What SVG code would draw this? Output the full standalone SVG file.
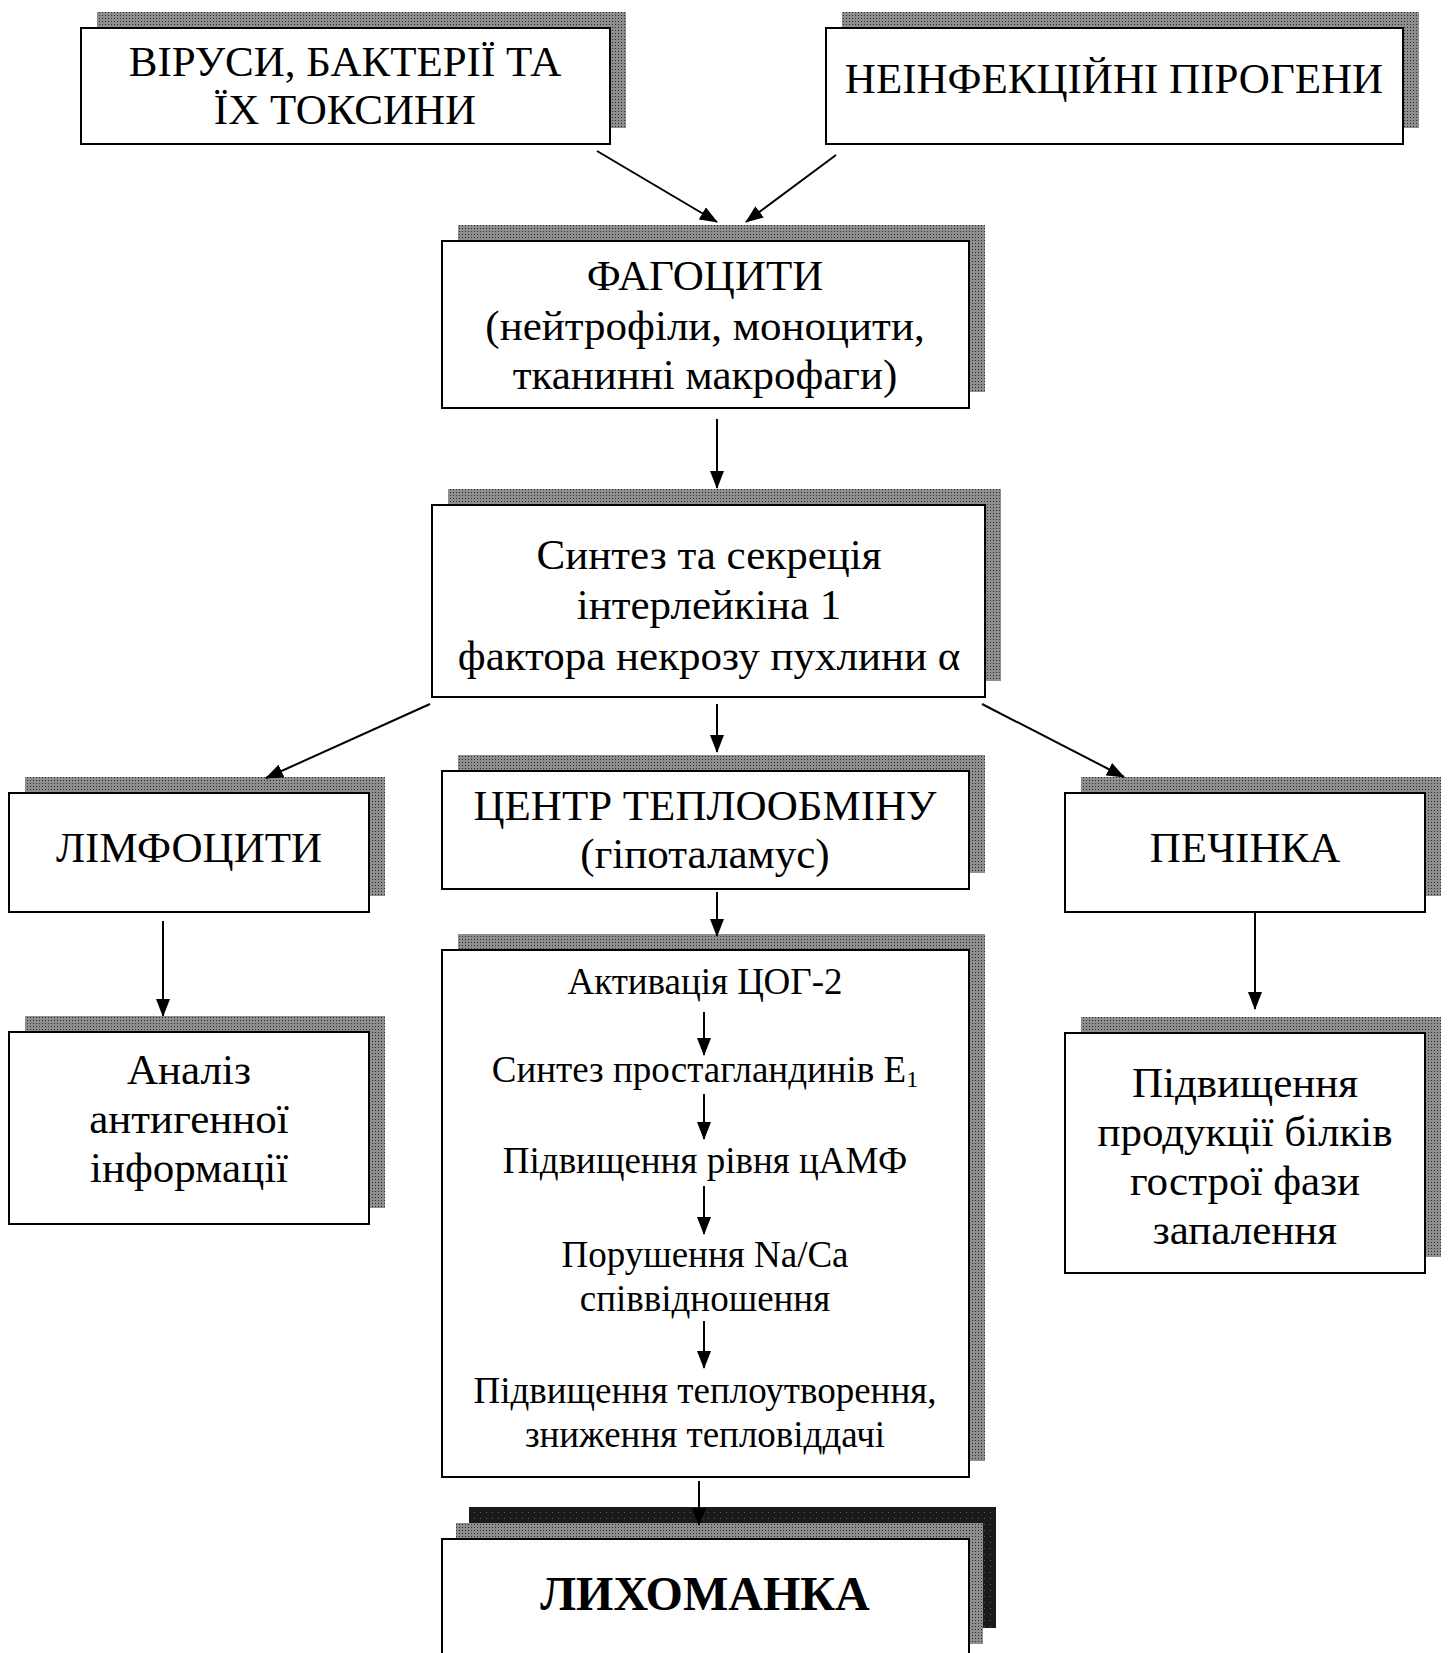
<svg xmlns="http://www.w3.org/2000/svg" width="1449" height="1653" viewBox="0 0 1449 1653">
<style>
.box{fill:#fff;stroke:#000;stroke-width:2}
.sh{fill:url(#dots)}
.shb{fill:url(#dk)}
text{font-family:"Liberation Serif","Times New Roman",serif;fill:#000;text-anchor:middle}
.t{font-size:43px}
.s{font-size:37px}
.b{font-size:48px;font-weight:bold}
.c line{stroke:#000;stroke-width:2;marker-end:url(#ah)}
</style>
<defs>
<pattern id="dots" width="3" height="3" patternUnits="userSpaceOnUse"><rect width="3" height="3" fill="#8e8e8e"/><rect width="1" height="1" fill="#2e2e2e"/></pattern>
<pattern id="dk" width="6" height="6" patternUnits="userSpaceOnUse"><rect width="6" height="6" fill="#1a1a1a"/><rect width="1" height="1" fill="#5a5a5a"/></pattern>
<marker id="ah" markerUnits="userSpaceOnUse" markerWidth="18" markerHeight="14" refX="17" refY="7" orient="auto"><path d="M0,0 L18,7 L0,14 Z" fill="#000"/></marker>
</defs>
<rect width="1449" height="1653" fill="#fff"/>

<g id="n1"><rect class="sh" x="97" y="12" width="529" height="116"/><rect class="box" x="81" y="28" width="529" height="116"/>
<text class="t" x="345" y="76">ВІРУСИ, БАКТЕРІЇ ТА</text><text class="t" x="345" y="124">ЇХ ТОКСИНИ</text></g>

<g id="n2"><rect class="sh" x="842" y="12" width="577" height="116"/><rect class="box" x="826" y="28" width="577" height="116"/>
<text class="t" x="1114" y="93">НЕІНФЕКЦІЙНІ ПІРОГЕНИ</text></g>

<g id="n3"><rect class="sh" x="458" y="225" width="527" height="167"/><rect class="box" x="442" y="241" width="527" height="167"/>
<text class="t" x="705" y="290">ФАГОЦИТИ</text><text class="t" x="705" y="340">(нейтрофіли, моноцити,</text><text class="t" x="705" y="389">тканинні макрофаги)</text></g>

<g id="n4"><rect class="sh" x="448" y="489" width="553" height="192"/><rect class="box" x="432" y="505" width="553" height="192"/>
<text class="t" x="709" y="569">Синтез та секреція</text><text class="t" x="709" y="619">інтерлейкіна 1</text><text class="t" x="709" y="670">фактора некрозу пухлини α</text></g>

<g id="n5"><rect class="sh" x="25" y="777" width="360" height="119"/><rect class="box" x="9" y="793" width="360" height="119"/>
<text class="t" x="189" y="862">ЛІМФОЦИТИ</text></g>

<g id="n6"><rect class="sh" x="458" y="755" width="527" height="118"/><rect class="box" x="442" y="771" width="527" height="118"/>
<text class="t" x="705" y="820">ЦЕНТР ТЕПЛООБМІНУ</text><text class="t" x="705" y="868">(гіпоталамус)</text></g>

<g id="n7"><rect class="sh" x="1081" y="777" width="360" height="119"/><rect class="box" x="1065" y="793" width="360" height="119"/>
<text class="t" x="1245" y="862">ПЕЧІНКА</text></g>

<g id="n8"><rect class="sh" x="25" y="1016" width="360" height="192"/><rect class="box" x="9" y="1032" width="360" height="192"/>
<text class="t" x="189" y="1084">Аналіз</text><text class="t" x="189" y="1133">антигенної</text><text class="t" x="189" y="1182">інформації</text></g>

<g id="n9"><rect class="sh" x="458" y="934" width="527" height="527"/><rect class="box" x="442" y="950" width="527" height="527"/>
<text class="s" x="705" y="994">Активація ЦОГ-2</text>
<text class="s" x="705" y="1082">Синтез простагландинів Е<tspan font-size="24" dy="5">1</tspan></text>
<text class="s" x="705" y="1173">Підвищення рівня цАМФ</text>
<text class="s" x="705" y="1267">Порушення Na/Ca</text>
<text class="s" x="705" y="1311">співвідношення</text>
<text class="s" x="705" y="1403">Підвищення теплоутворення,</text>
<text class="s" x="705" y="1447">зниження тепловіддачі</text></g>

<g id="n10"><rect class="sh" x="1081" y="1017" width="360" height="240"/><rect class="box" x="1065" y="1033" width="360" height="240"/>
<text class="t" x="1245" y="1097">Підвищення</text><text class="t" x="1245" y="1146">продукції білків</text><text class="t" x="1245" y="1195">гострої фази</text><text class="t" x="1245" y="1244">запалення</text></g>

<g id="n11"><rect class="shb" x="469" y="1507" width="527" height="121"/><rect class="sh" x="456" y="1523" width="527" height="121"/><rect class="box" x="442" y="1539" width="527" height="121"/>
<text class="b" x="705" y="1610">ЛИХОМАНКА</text></g>

<g id="connectors" class="c">
<line x1="597" y1="151" x2="717" y2="222"/>
<line x1="836" y1="155" x2="746" y2="222"/>
<line x1="717" y1="419" x2="717" y2="488"/>
<line x1="430" y1="704" x2="266" y2="778"/>
<line x1="717" y1="704" x2="717" y2="752"/>
<line x1="982" y1="704" x2="1124" y2="777"/>
<line x1="163" y1="921" x2="163" y2="1016"/>
<line x1="1255" y1="913" x2="1255" y2="1009"/>
<line x1="717" y1="892" x2="717" y2="936"/>
<line x1="704" y1="1012" x2="704" y2="1055"/>
<line x1="704" y1="1094" x2="704" y2="1139"/>
<line x1="704" y1="1186" x2="704" y2="1234"/>
<line x1="704" y1="1321" x2="704" y2="1368"/>
<line x1="699" y1="1481" x2="699" y2="1525"/>
</g>
</svg>
